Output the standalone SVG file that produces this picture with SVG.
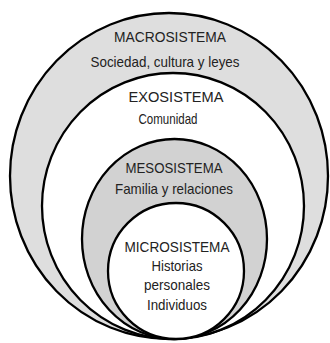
<svg xmlns="http://www.w3.org/2000/svg" width="330" height="343" viewBox="0 0 330 343">
<style>
.ring{stroke:#000;stroke-width:2.3}
.gray{fill:#dedede}
.gray2{fill:#d2d2d2}
.white{fill:#fff}
text{font-family:"Liberation Sans",Arial,sans-serif;font-size:15px;fill:#222;text-anchor:middle}
</style>
<rect width="330" height="343" fill="#fff"/>
<g id="macrosistema">
<ellipse class="ring gray" cx="169" cy="176" rx="159" ry="163"/>
<text x="170" y="42" textLength="112" lengthAdjust="spacingAndGlyphs">MACROSISTEMA</text>
<text x="165" y="67" textLength="149" lengthAdjust="spacingAndGlyphs">Sociedad, cultura y leyes</text>
</g>
<g id="exosistema">
<ellipse class="ring white" cx="173" cy="206" rx="131" ry="133"/>
<text x="176" y="102" textLength="95" lengthAdjust="spacingAndGlyphs">EXOSISTEMA</text>
<text x="168" y="124" textLength="59" lengthAdjust="spacingAndGlyphs">Comunidad</text>
</g>
<g id="mesosistema">
<ellipse class="ring gray2" cx="174.5" cy="239" rx="92.5" ry="100"/>
<text x="174" y="173" textLength="97" lengthAdjust="spacingAndGlyphs">MESOSISTEMA</text>
<text x="174" y="194" textLength="118" lengthAdjust="spacingAndGlyphs">Familia y relaciones</text>
</g>
<g id="microsistema">
<ellipse class="ring white" cx="176" cy="271" rx="68" ry="68"/>
<text x="177" y="252" textLength="105" lengthAdjust="spacingAndGlyphs">MICROSISTEMA</text>
<text x="177" y="271" textLength="51" lengthAdjust="spacingAndGlyphs">Historias</text>
<text x="177" y="290" textLength="66" lengthAdjust="spacingAndGlyphs">personales</text>
<text x="177" y="310" textLength="60" lengthAdjust="spacingAndGlyphs">Individuos</text>
</g>
</svg>
